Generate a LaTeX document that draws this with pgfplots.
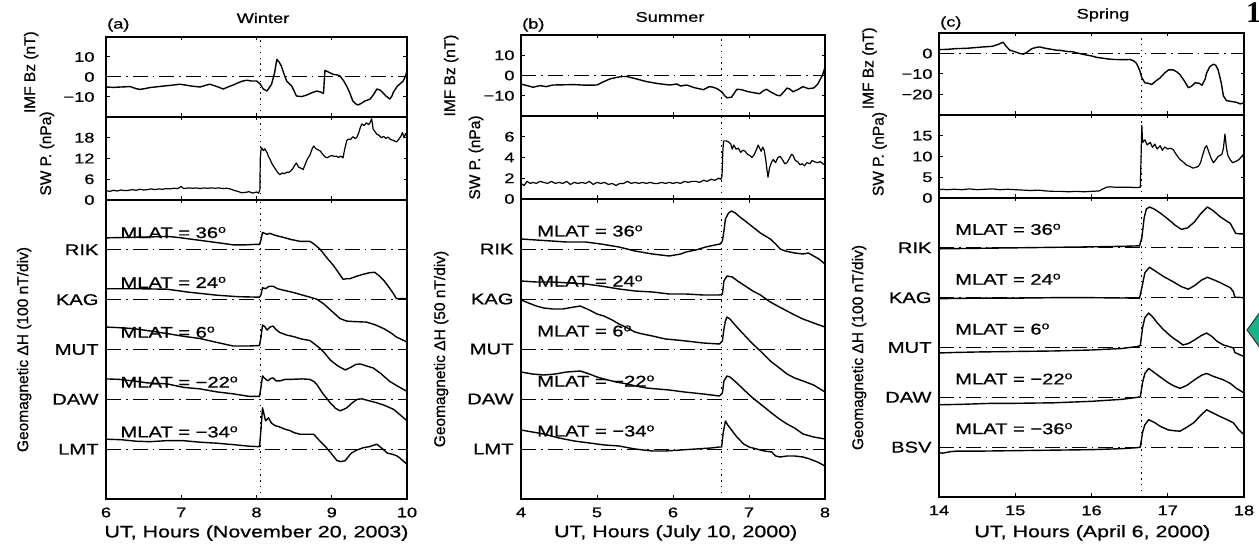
\documentclass[border=0pt]{standalone}
\usepackage{fontspec}
\setmainfont{Liberation Sans}[FakeStretch=1.3, FakeBold=0.8]
\newfontfamily\uprightlabel{Liberation Sans}[FakeBold=0.8]
\newfontfamily\slideserif{Liberation Serif}
\usepackage{pgfplots}
\usepackage{pgfplotstable}
\pgfplotsset{compat=1.18}

% ---------------- (a) Winter, November 20, 2003 ----------------
\pgfplotstableread{
t v
6.00 -5.0
6.10 -5.2
6.20 -5.0
6.32 -4.8
6.40 -5.8
6.45 -6.2
6.52 -5.8
6.58 -5.3
6.70 -4.8
6.80 -4.4
6.90 -4.0
6.98 -3.6
7.05 -4.0
7.15 -4.6
7.25 -5.0
7.32 -4.2
7.38 -3.6
7.46 -4.6
7.56 -6.0
7.62 -5.0
7.69 -4.0
7.75 -3.0
7.80 -2.2
7.87 -1.6
7.93 -2.0
8.00 -2.0
8.05 -3.5
8.09 -6.0
8.14 -7.0
8.20 -3.6
8.24 2.0
8.27 8.8
8.30 7.5
8.33 5.5
8.37 1.0
8.40 -2.0
8.44 -3.5
8.47 -4.7
8.50 -7.0
8.53 -9.5
8.60 -9.8
8.67 -9.0
8.74 -7.8
8.80 -7.0
8.85 -7.5
8.89 -8.3
8.91 3.3
8.95 2.6
9.02 1.3
9.08 1.0
9.11 0.5
9.16 -2.0
9.20 -4.7
9.24 -8.0
9.28 -12.0
9.32 -13.5
9.35 -14.0
9.40 -13.0
9.44 -12.0
9.48 -11.5
9.51 -11.0
9.56 -8.5
9.60 -6.0
9.64 -6.5
9.67 -7.5
9.72 -9.5
9.77 -11.0
9.80 -9.5
9.82 -7.5
9.87 -4.7
9.92 -3.0
9.95 -2.0
9.98 0.5
10.00 3.0
}\aBz

\pgfplotstableread{
t v
6.00 2.7
6.05 2.5
6.10 2.8
6.15 2.6
6.20 2.9
6.25 2.7
6.30 2.8
6.35 3.0
6.40 2.8
6.45 3.1
6.50 2.9
6.55 3.0
6.60 3.2
6.65 3.0
6.70 3.2
6.75 3.1
6.80 3.3
6.85 3.2
6.90 3.4
6.95 3.3
7.00 3.9
7.03 3.3
7.10 3.5
7.15 3.4
7.20 3.5
7.25 3.3
7.30 3.5
7.35 3.4
7.40 3.5
7.45 3.4
7.50 3.5
7.55 3.3
7.60 3.4
7.65 3.2
7.70 2.8
7.75 2.5
7.80 2.1
7.85 2.2
7.90 2.4
7.95 2.0
8.00 2.3
8.03 2.0
8.045 3.0
8.05 12.0
8.06 14.5
8.07 15.1
8.09 14.3
8.11 14.8
8.14 13.7
8.16 12.5
8.18 11.8
8.20 10.7
8.22 10.0
8.25 9.0
8.28 8.0
8.31 7.3
8.34 7.8
8.37 7.6
8.40 8.0
8.43 8.0
8.45 8.3
8.48 9.0
8.50 9.8
8.53 10.7
8.56 9.5
8.59 9.2
8.62 8.8
8.65 10.5
8.68 12.0
8.71 13.0
8.74 14.8
8.76 15.6
8.79 14.8
8.82 14.5
8.85 14.1
8.88 13.2
8.91 12.5
8.94 12.2
8.96 12.5
9.00 12.9
9.03 12.6
9.06 12.7
9.09 12.3
9.12 12.7
9.15 12.2
9.17 14.5
9.20 17.2
9.22 17.6
9.25 17.5
9.28 18.3
9.31 17.8
9.33 18.0
9.36 19.5
9.38 21.0
9.40 22.0
9.43 21.5
9.46 22.3
9.49 21.8
9.51 22.4
9.53 23.5
9.55 20.5
9.58 19.6
9.60 19.0
9.63 18.7
9.66 18.0
9.69 18.4
9.72 17.8
9.75 18.2
9.78 17.5
9.81 17.3
9.84 17.0
9.86 16.8
9.89 17.5
9.92 18.5
9.94 19.5
9.96 18.0
9.98 19.2
10.00 18.5
}\aSW

\pgfplotstableread{
t h
6.00 24
6.30 25
6.60 26
6.81 27
6.95 25
7.10 22
7.25 19
7.40 16
7.55 13
7.69 10
7.85 10
8.00 11
8.04 11
8.06 20
8.08 35
8.11 33
8.14 31
8.17 33
8.20 32
8.23 30
8.30 27
8.36 25
8.45 21
8.58 17
8.71 17
8.76 12
8.84 2
8.93 -15
9.02 -31
9.10 -48
9.15 -59
9.20 -58
9.24 -58
9.33 -53
9.42 -49
9.50 -46
9.57 -45
9.63 -52
9.69 -61
9.76 -75
9.82 -88
9.86 -98
9.92 -98
10.00 -98
}\aRIK

\pgfplotstableread{
t h
6.00 22
6.40 22
6.81 21
7.10 15
7.47 9
7.75 6
8.04 5
8.06 10
8.08 24
8.12 22
8.17 27
8.22 27
8.28 22
8.36 19
8.50 14
8.71 5
8.80 1
8.89 -8
9.00 -23
9.11 -38
9.20 -43
9.30 -44
9.46 -45
9.57 -50
9.69 -58
9.78 -66
9.86 -75
9.93 -80
10.00 -85
}\aKAG

\pgfplotstableread{
t h
6.00 45
6.15 44
6.36 42
6.55 38
6.81 32
7.05 26
7.25 22
7.45 15
7.69 7
7.90 7
8.04 8
8.06 25
8.08 49
8.11 46
8.14 39
8.18 45
8.22 47
8.26 40
8.31 34
8.40 29
8.49 26
8.60 21
8.71 18
8.78 10
8.84 3
8.91 -8
8.98 -21
9.08 -33
9.18 -41
9.25 -36
9.32 -30
9.38 -29
9.46 -33
9.55 -37
9.65 -48
9.77 -64
9.88 -74
10.00 -84
}\aMUT

\pgfplotstableread{
t h
6.00 41
6.18 40
6.36 37
6.55 33
6.81 31
7.03 24
7.25 21
7.47 15
7.69 11
7.90 6
8.04 6
8.06 25
8.08 47
8.11 42
8.15 37
8.19 42
8.22 43
8.26 37
8.31 37
8.38 40
8.45 40
8.60 41
8.71 40
8.76 36
8.80 30
8.88 12
8.98 -7
9.05 -18
9.11 -23
9.16 -20
9.20 -17
9.28 -6
9.34 0
9.40 1
9.50 -3
9.60 -7
9.70 -12
9.82 -20
9.90 -30
10.00 -43
}\aDAW

\pgfplotstableread{
t h
6.00 20
6.20 19
6.40 16
6.58 15
6.80 17
7.03 17
7.25 14
7.47 12
7.70 9
7.90 6
8.04 5
8.06 40
8.08 83
8.10 70
8.12 57
8.14 60
8.16 63
8.20 52
8.25 47
8.30 45
8.38 40
8.45 37
8.50 33
8.58 30
8.70 30
8.76 30
8.82 20
8.93 3
9.00 -10
9.07 -23
9.12 -25
9.18 -23
9.22 -15
9.26 -8
9.33 -2
9.42 3
9.50 5
9.60 10
9.68 0
9.74 -8
9.80 -10
9.86 -13
9.90 -17
9.95 -24
10.00 -30
}\aLMT

% ---------------- (b) Summer, July 10, 2000 ----------------
\pgfplotstableread{
t v
4.00 -4.2
4.08 -5.0
4.16 -5.8
4.25 -5.0
4.33 -5.5
4.42 -4.7
4.55 -4.6
4.70 -4.5
4.85 -4.8
5.00 -4.7
5.08 -3.2
5.17 -1.7
5.25 -1.0
5.33 -0.5
5.39 -0.5
5.50 -1.5
5.65 -3.0
5.80 -4.0
5.96 -4.7
6.05 -4.2
6.10 -5.2
6.18 -4.7
6.28 -6.0
6.40 -7.0
6.48 -5.5
6.53 -5.8
6.58 -6.5
6.64 -8.0
6.68 -10.0
6.71 -11.0
6.77 -10.7
6.81 -8.5
6.84 -6.8
6.90 -7.0
6.99 -8.0
7.06 -8.5
7.14 -9.0
7.19 -7.5
7.23 -6.8
7.28 -8.0
7.32 -8.8
7.37 -9.8
7.41 -10.0
7.46 -8.0
7.50 -6.2
7.54 -6.8
7.58 -8.0
7.64 -7.0
7.71 -5.5
7.78 -6.5
7.85 -6.2
7.90 -4.5
7.93 -2.5
7.97 0.5
8.00 4.0
}\bBz

\pgfplotstableread{
t v
4.00 1.5
4.04 1.3
4.08 1.7
4.12 1.5
4.16 1.6
4.20 1.5
4.25 1.7
4.30 1.6
4.35 1.5
4.40 1.7
4.45 1.5
4.50 1.6
4.55 1.5
4.60 1.7
4.65 1.4
4.70 1.6
4.75 1.5
4.80 1.6
4.85 1.5
4.90 1.7
4.95 1.4
5.00 1.6
5.05 1.5
5.10 1.6
5.15 1.4
5.20 1.5
5.25 1.3
5.30 1.5
5.35 1.5
5.40 1.7
5.45 1.5
5.50 1.6
5.55 1.5
5.60 1.6
5.65 1.5
5.70 1.6
5.75 1.5
5.80 1.5
5.85 1.6
5.90 1.5
5.95 1.6
6.00 1.5
6.05 1.6
6.10 1.5
6.15 1.7
6.20 1.6
6.25 1.7
6.30 1.7
6.35 1.6
6.40 1.8
6.45 1.7
6.50 1.9
6.55 1.8
6.60 2.0
6.63 1.9
6.645 2.2
6.655 4.5
6.665 5.6
6.70 5.6
6.73 5.5
6.76 5.3
6.78 4.8
6.80 5.2
6.83 4.8
6.86 4.9
6.89 4.5
6.92 4.7
6.95 4.6
6.98 4.3
7.01 4.2
7.04 4.0
7.07 4.3
7.10 4.8
7.12 5.2
7.14 4.9
7.16 4.6
7.18 5.0
7.20 4.7
7.22 3.8
7.24 2.6
7.25 2.1
7.27 3.0
7.30 3.6
7.32 3.8
7.35 3.5
7.38 4.0
7.41 4.1
7.44 3.8
7.47 3.4
7.50 3.5
7.53 3.9
7.56 4.3
7.58 4.2
7.61 3.7
7.64 3.6
7.67 3.3
7.70 3.4
7.73 3.2
7.76 3.5
7.80 3.4
7.83 3.7
7.86 3.6
7.90 3.5
7.94 3.6
7.97 3.4
8.00 3.3
}\bSW

\pgfplotstableread{
t h
4.00 10
4.20 9
4.40 8
4.60 7
4.85 7
5.05 5
5.29 2
5.50 -2
5.73 -5
5.95 -7
6.10 -5
6.17 -3
6.30 -1
6.43 2
6.55 4
6.62 5
6.65 8
6.67 18
6.69 30
6.73 36
6.77 38
6.82 36
6.88 32
6.95 28
7.05 22
7.15 16
7.28 10
7.35 5
7.41 0
7.48 -2
7.54 -3
7.60 -4
7.71 -5
7.78 -4
7.85 -7
7.92 -10
8.00 -15
}\bRIK

\pgfplotstableread{
t h
4.00 18
4.20 17
4.42 17
4.65 16
4.85 15
5.05 13
5.29 10
5.50 8
5.73 7
5.95 5
6.17 5
6.40 4
6.61 4
6.65 5
6.67 18
6.71 23
6.78 22
6.85 18
6.95 13
7.05 8
7.15 4
7.28 -3
7.40 -8
7.50 -12
7.60 -16
7.71 -20
7.85 -24
8.00 -28
}\bKAG

\pgfplotstableread{
t h
4.00 49
4.10 46
4.20 43
4.30 41
4.42 40
4.55 40
4.70 42
4.78 43
4.90 39
5.00 35
5.09 33
5.20 29
5.29 25
5.40 21
5.50 17
5.60 15
5.73 13
5.90 10
6.05 9
6.17 8
6.40 6
6.61 5
6.65 8
6.67 20
6.69 28
6.71 32
6.75 30
6.84 22
6.95 13
7.05 5
7.15 -2
7.28 -12
7.40 -19
7.50 -25
7.60 -29
7.71 -32
7.85 -36
8.00 -43
}\bMUT

\pgfplotstableread{
t h
4.00 27
4.15 25
4.30 24
4.45 25
4.60 27
4.78 28
4.90 25
5.00 22
5.09 20
5.25 17
5.40 15
5.51 13
5.65 11
5.80 10
5.95 9
6.15 7
6.40 5
6.61 3
6.65 6
6.67 18
6.71 23
6.75 22
6.84 16
6.95 8
7.05 1
7.15 -5
7.28 -13
7.40 -20
7.50 -25
7.60 -29
7.71 -35
7.85 -38
8.00 -40
}\bDAW

\pgfplotstableread{
t h
4.00 19
4.15 17
4.30 15
4.50 11
4.70 8
4.90 6
5.10 4
5.29 3
5.50 0
5.73 -2
5.90 -2
6.10 -1
6.30 0
6.50 1
6.61 2
6.64 2
6.66 16
6.69 28
6.72 24
6.76 20
6.84 12
6.93 5
7.00 2
7.10 0
7.20 -2
7.30 -3
7.35 -7
7.41 -8
7.50 -7
7.60 -7
7.71 -8
7.80 -10
7.90 -13
8.00 -17
}\bLMT

% ---------------- (c) Spring, April 6, 2000 ----------------
\pgfplotstableread{
t v
14.00 1.9
14.10 2.0
14.23 2.4
14.35 2.5
14.45 2.8
14.58 3.2
14.70 3.5
14.78 4.5
14.84 5.5
14.88 3.5
14.93 1.6
15.00 0.8
15.06 0.0
15.11 -0.3
15.16 0.8
15.22 2.4
15.28 3.0
15.32 3.2
15.40 2.5
15.48 2.0
15.54 1.6
15.60 1.5
15.68 1.0
15.76 0.8
15.82 0.2
15.90 -0.5
16.00 -1.2
16.07 -1.9
16.15 -2.3
16.22 -2.7
16.29 -2.9
16.38 -3.0
16.45 -3.0
16.50 -2.9
16.55 -3.5
16.59 -4.8
16.63 -8.0
16.66 -11.9
16.70 -14.3
16.74 -14.5
16.79 -15.1
16.84 -13.5
16.90 -11.9
16.96 -9.5
17.01 -8.0
17.07 -8.0
17.12 -9.0
17.16 -10.3
17.22 -13.5
17.27 -16.7
17.31 -16.0
17.36 -14.3
17.41 -14.5
17.45 -15.5
17.49 -12.5
17.51 -9.5
17.55 -6.5
17.60 -5.2
17.63 -5.8
17.66 -8.0
17.70 -14.0
17.73 -20.7
17.77 -23.0
17.82 -23.3
17.90 -23.8
17.95 -24.6
18.00 -24.0
}\cBz

\pgfplotstableread{
t v
14.00 2.0
14.05 2.1
14.10 2.0
14.20 2.1
14.30 2.0
14.40 2.2
14.50 2.0
14.60 2.1
14.70 2.2
14.80 2.0
14.90 2.1
15.00 2.0
15.10 1.9
15.20 1.8
15.30 1.9
15.40 1.7
15.50 1.6
15.60 1.6
15.70 1.5
15.80 1.6
15.90 1.5
16.00 1.6
16.10 1.7
16.15 2.2
16.20 2.6
16.24 2.7
16.30 2.6
16.40 2.6
16.50 2.6
16.59 2.5
16.64 2.6
16.65 10.0
16.66 17.5
16.67 13.4
16.70 14.0
16.73 12.8
16.77 13.4
16.80 12.2
16.83 13.0
16.86 11.8
16.90 12.6
16.93 11.5
16.96 12.3
17.00 11.8
17.03 12.0
17.07 11.7
17.10 10.8
17.13 10.0
17.16 9.3
17.20 8.7
17.24 8.0
17.29 7.6
17.33 7.2
17.37 7.4
17.40 7.6
17.43 8.5
17.46 10.5
17.49 12.2
17.51 12.6
17.54 11.0
17.57 9.5
17.60 8.5
17.63 9.2
17.66 10.0
17.68 10.2
17.71 10.5
17.73 12.0
17.75 15.4
17.77 12.0
17.79 10.2
17.82 9.2
17.85 8.5
17.89 8.8
17.93 9.2
17.97 10.0
18.00 10.7
}\cSW

\pgfplotstableread{
t h
14.00 -2
14.50 -1
15.00 0
15.50 1
16.00 2
16.40 3
16.63 4
16.66 20
16.69 60
16.72 78
16.76 82
16.82 78
16.90 70
17.00 58
17.10 45
17.18 37
17.26 40
17.35 52
17.44 70
17.52 82
17.60 74
17.69 62
17.76 55
17.82 49
17.86 38
17.89 29
17.95 28
18.00 28
}\cRIK

\pgfplotstableread{
t h
14.00 -2
14.50 -1
15.00 -1
15.50 0
16.00 0
16.63 -1
16.66 20
16.70 50
16.76 61
16.85 52
16.95 42
17.07 32
17.18 22
17.27 17
17.36 25
17.44 35
17.52 41
17.60 36
17.69 30
17.82 20
17.86 12
17.88 1
18.00 0
}\cKAG

\pgfplotstableread{
t h
14.00 -11
14.20 -10
14.50 -9
15.00 -8
15.50 -7
16.00 -5
16.40 -2
16.60 2
16.64 4
16.67 40
16.70 60
16.75 69
16.80 62
16.86 50
16.93 38
17.00 28
17.07 19
17.14 12
17.20 5
17.27 8
17.35 15
17.44 24
17.51 29
17.58 22
17.65 12
17.73 5
17.80 2
17.86 -1
17.88 -10
17.95 -15
18.00 -18
}\cMUT

\pgfplotstableread{
t h
14.00 -15
14.30 -14
14.70 -12
15.00 -12
15.50 -11
16.00 -8
16.40 -4
16.60 0
16.64 1
16.67 30
16.70 48
16.75 58
16.82 50
16.90 41
17.00 30
17.08 23
17.16 18
17.25 24
17.35 35
17.44 44
17.51 48
17.60 42
17.73 35
17.82 28
17.90 18
18.00 9
}\cDAW

\pgfplotstableread{
t h
14.00 -11
14.05 -12
14.15 -9
14.23 -8
14.50 -8
15.00 -7
15.50 -6
16.00 -5
16.40 -3
16.60 -1
16.64 0
16.67 30
16.70 45
16.75 55
16.82 50
16.90 42
17.00 35
17.08 33
17.16 32
17.25 40
17.34 49
17.42 62
17.51 75
17.60 68
17.68 62
17.78 55
17.86 49
17.93 35
18.00 25
}\cBSV

\pgfplotsset{
  panel/.style={
    scale only axis,
    anchor=south west,
    axis line style={line width=1.2bp},
    every tick/.style={black, line width=1bp},
    major tick length=3.5bp,
    tick align=inside,
    tick label style={font=\fontsize{14bp}{16bp}\selectfont},
    label style={font=\uprightlabel\fontsize{15.5bp}{17bp}\selectfont},
    ylabel style={anchor=center},
    xlabel style={anchor=center, font=\normalfont\fontsize{16.5bp}{18bp}\selectfont},
  },
  toppanel/.style={panel, xticklabels={}},
  dhpanel/.style={panel, ymin=0, ymax=6, ytick={1,2,3,4,5},
    yticklabel style={font=\fontsize{15.5bp}{17bp}\selectfont, xshift=-4bp},
    xticklabel style={yshift=-5bp}},
  trace/.style={black, line width=1.4bp, no markers, line join=round},
  base/.style={black, line width=1bp, dash pattern=on 15bp off 5bp on 1.5bp off 5bp},
  onset/.style={black, line width=1.2bp, dash pattern=on 1.3bp off 4.5bp},
}
\tikzset{
  mlat/.style={inner sep=0pt, anchor=west, font=\fontsize{15.5bp}{17bp}\selectfont},
}

\begin{document}
\begin{tikzpicture}
\useasboundingbox (0,0) rectangle (1259bp,549bp);

% ===================== column (a) =====================
\begin{axis}[toppanel, at={(106bp,432bp)}, width=301bp, height=80bp,
  xmin=6, xmax=10, xtick={6,7,8,9,10}, ymin=-20, ymax=20,
  ytick={-10,0,10}, yticklabels={−10,0,10}, yticklabel style={xshift=-8bp},
  ylabel={IMF Bz (nT)}, ylabel style={at={(axis description cs:-0.249,0.56)}}]
  \addplot[base] coordinates {(6,0) (10,0)};
  \addplot[onset] coordinates {(8.05,-20) (8.05,20)};
  \addplot[trace] table[x=t, y=v] {\aBz};
\end{axis}
\begin{axis}[toppanel, at={(106bp,349bp)}, width=301bp, height=83bp,
  xmin=6, xmax=10, xtick={6,7,8,9,10}, ymin=0, ymax=24,
  ytick={0,6,12,18}, yticklabels={0,6,12,18}, yticklabel style={xshift=-8bp},
  ylabel={SW P. (nPa)}, ylabel style={at={(axis description cs:-0.196,0.56)}}]
  \addplot[onset] coordinates {(8.05,0) (8.05,24)};
  \addplot[trace, line width=1.2bp] table[x=t, y=v] {\aSW};
\end{axis}
\begin{axis}[dhpanel, at={(106bp,50bp)}, width=301bp, height=299bp,
  xmin=6, xmax=10, xtick={6,7,8,9,10}, xticklabels={6,7,8,9,10},
  yticklabels={LMT,DAW,MUT,KAG,RIK},
  xlabel={UT, Hours (November 20, 2003)},
  xlabel style={at={(axis description cs:0.5,-0.114)}},
  ylabel={Geomagnetic ΔH (100 nT/div)},
  ylabel style={at={(axis description cs:-0.272,0.5)}}]
  \addplot[onset] coordinates {(8.05,0) (8.05,6)};
  \foreach \b in {1,...,5} {\addplot[base] coordinates {(6,\b) (10,\b)};}
  \addplot[trace] table[x=t, y expr=5+\thisrow{h}/100] {\aRIK};
  \addplot[trace] table[x=t, y expr=4+\thisrow{h}/100] {\aKAG};
  \addplot[trace] table[x=t, y expr=3+\thisrow{h}/100] {\aMUT};
  \addplot[trace] table[x=t, y expr=2+\thisrow{h}/100] {\aDAW};
  \addplot[trace] table[x=t, y expr=1+\thisrow{h}/100] {\aLMT};
  \node[mlat] at (axis cs:6.19,5.346) {MLAT = 36\textsuperscript{o}};
  \node[mlat] at (axis cs:6.19,4.346) {MLAT = 24\textsuperscript{o}};
  \node[mlat] at (axis cs:6.19,3.346) {MLAT = 6\textsuperscript{o}};
  \node[mlat] at (axis cs:6.19,2.346) {MLAT = −22\textsuperscript{o}};
  \node[mlat] at (axis cs:6.19,1.346) {MLAT = −34\textsuperscript{o}};
\end{axis}

% ===================== column (b) =====================
\begin{axis}[toppanel, at={(521bp,433bp)}, width=304bp, height=81bp,
  xmin=4, xmax=8, xtick={4,5,6,7,8}, ymin=-20, ymax=20,
  ytick={-10,0,10}, yticklabels={−10,0,10}, yticklabel style={xshift=-3bp},
  ylabel={IMF Bz (nT)}, ylabel style={at={(axis description cs:-0.230,0.5)}}]
  \addplot[base] coordinates {(4,0) (8,0)};
  \addplot[onset] coordinates {(6.64,-20) (6.64,20)};
  \addplot[trace] table[x=t, y=v] {\bBz};
\end{axis}
\begin{axis}[toppanel, at={(521bp,350bp)}, width=304bp, height=83bp,
  xmin=4, xmax=8, xtick={4,5,6,7,8}, ymin=0, ymax=8,
  ytick={0,2,4,6}, yticklabels={0,2,4,6}, yticklabel style={xshift=-3bp},
  ylabel={SW P. (nPa)}, ylabel style={at={(axis description cs:-0.148,0.5)}}]
  \addplot[onset] coordinates {(6.64,0) (6.64,8)};
  \addplot[trace, line width=1.2bp] table[x=t, y=v] {\bSW};
\end{axis}
\begin{axis}[dhpanel, at={(521bp,50bp)}, width=304bp, height=300bp,
  xmin=4, xmax=8, xtick={4,5,6,7,8}, xticklabels={4,5,6,7,8},
  yticklabels={LMT,DAW,MUT,KAG,RIK},
  xlabel={UT, Hours (July 10, 2000)},
  xlabel style={at={(axis description cs:0.509,-0.113)}},
  ylabel={Geomagnetic ΔH (50 nT/div)},
  ylabel style={at={(axis description cs:-0.263,0.5)}}]
  \addplot[onset] coordinates {(6.64,0) (6.64,6)};
  \foreach \b in {1,...,5} {\addplot[base] coordinates {(4,\b) (8,\b)};}
  \addplot[trace] table[x=t, y expr=5+\thisrow{h}/50] {\bRIK};
  \addplot[trace] table[x=t, y expr=4+\thisrow{h}/50] {\bKAG};
  \addplot[trace] table[x=t, y expr=3+\thisrow{h}/50] {\bMUT};
  \addplot[trace] table[x=t, y expr=2+\thisrow{h}/50] {\bDAW};
  \addplot[trace] table[x=t, y expr=1+\thisrow{h}/50] {\bLMT};
  \node[mlat] at (axis cs:4.21,5.36) {MLAT = 36\textsuperscript{o}};
  \node[mlat] at (axis cs:4.21,4.36) {MLAT = 24\textsuperscript{o}};
  \node[mlat] at (axis cs:4.21,3.36) {MLAT = 6\textsuperscript{o}};
  \node[mlat] at (axis cs:4.21,2.36) {MLAT = −22\textsuperscript{o}};
  \node[mlat] at (axis cs:4.21,1.36) {MLAT = −34\textsuperscript{o}};
\end{axis}

% ===================== column (c) =====================
\begin{axis}[toppanel, at={(939bp,434bp)}, width=305bp, height=82bp,
  xmin=14, xmax=18, xtick={14,15,16,17,18}, ymin=-30, ymax=10,
  ytick={-20,-10,0}, yticklabels={−20,−10,0}, yticklabel style={xshift=-3bp},
  ylabel={IMF Bz (nT)}, ylabel style={at={(axis description cs:-0.228,0.57)}}]
  \addplot[base] coordinates {(14,0) (18,0)};
  \addplot[onset] coordinates {(16.66,-30) (16.66,10)};
  \addplot[trace] table[x=t, y=v] {\cBz};
\end{axis}
\begin{axis}[toppanel, at={(939bp,351bp)}, width=305bp, height=83bp,
  xmin=14, xmax=18, xtick={14,15,16,17,18}, ymin=0, ymax=20,
  ytick={0,5,10,15}, yticklabels={0,5,10,15}, yticklabel style={xshift=-3bp},
  ylabel={SW P. (nPa)}, ylabel style={at={(axis description cs:-0.195,0.53)}}]
  \addplot[onset] coordinates {(16.66,0) (16.66,20)};
  \addplot[trace, line width=1.2bp] table[x=t, y=v] {\cSW};
\end{axis}
\begin{axis}[dhpanel, at={(939bp,52bp)}, width=305bp, height=299bp,
  xmin=14, xmax=18, xtick={14,15,16,17,18}, xticklabels={14,15,16,17,18},
  yticklabels={BSV,DAW,MUT,KAG,RIK},
  xlabel={UT, Hours (April 6, 2000)},
  xlabel style={at={(axis description cs:0.503,-0.12)}},
  ylabel={Geomagnetic ΔH (100 nT/div)},
  ylabel style={at={(axis description cs:-0.262,0.5)}}]
  \addplot[onset] coordinates {(16.66,0) (16.66,6)};
  \foreach \b in {1,...,5} {\addplot[base] coordinates {(14,\b) (18,\b)};}
  \addplot[trace] table[x=t, y expr=5+\thisrow{h}/100] {\cRIK};
  \addplot[trace] table[x=t, y expr=4+\thisrow{h}/100] {\cKAG};
  \addplot[trace] table[x=t, y expr=3+\thisrow{h}/100] {\cMUT};
  \addplot[trace] table[x=t, y expr=2+\thisrow{h}/100] {\cDAW};
  \addplot[trace] table[x=t, y expr=1+\thisrow{h}/100] {\cBSV};
  \node[mlat] at (axis cs:14.21,5.37) {MLAT = 36\textsuperscript{o}};
  \node[mlat] at (axis cs:14.21,4.37) {MLAT = 24\textsuperscript{o}};
  \node[mlat] at (axis cs:14.21,3.37) {MLAT = 6\textsuperscript{o}};
  \node[mlat] at (axis cs:14.21,2.37) {MLAT = −22\textsuperscript{o}};
  \node[mlat] at (axis cs:14.21,1.37) {MLAT = −36\textsuperscript{o}};
\end{axis}

% ---- panel letters and season titles ----
\begin{scope}[every node/.style={inner sep=0pt, font=\fontsize{14bp}{16bp}\selectfont}]
  \node[anchor=west] at (107bp,524bp) {(a)};
  \node at (263bp,531bp) {Winter};
  \node[anchor=west] at (522bp,524bp) {(b)};
  \node at (670bp,532bp) {Summer};
  \node[anchor=west] at (940bp,526bp) {(c)};
  \node at (1103bp,534bp) {Spring};
\end{scope}

% ---- slide decorations at the right edge ----
\node[anchor=north west, inner sep=0pt, font=\slideserif\bfseries\fontsize{30bp}{30bp}\selectfont]
  at (1246bp,546bp) {1};
\filldraw[fill={rgb,255:red,22;green,180;blue,140}, draw=black!80, line width=1bp]
  (1247bp,219bp) -- (1263bp,241bp) -- (1279bp,219bp) -- (1263bp,197bp) -- cycle;
\end{tikzpicture}
\end{document}
